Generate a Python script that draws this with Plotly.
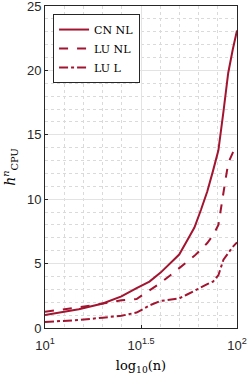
import numpy as np
import plotly.graph_objects as go

n = [10, 15, 20, 25, 30, 35, 40, 45, 50, 55, 60, 65, 70, 75, 80, 85, 90, 95, 100]
cn_nl = [1.0, 1.45, 1.9, 2.45, 3.1, 3.6, 4.3, 5.0, 5.7, 6.8, 7.8, 9.2, 10.6, 12.2, 13.8, 16.8, 19.8, 21.6, 23.1]
lu_nl = [1.27, 1.6, 1.9, 2.15, 2.25, 2.9, 3.5, 4.1, 4.65, 5.1, 5.6, 6.1, 6.6, 7.2, 8.0, 10.5, 12.8, 13.6, 14.2]
lu_l = [0.47, 0.62, 0.8, 0.95, 1.2, 1.75, 2.1, 2.2, 2.3, 2.6, 2.9, 3.15, 3.4, 3.6, 4.1, 5.3, 5.8, 6.3, 6.65]

x_tickvals = [10, 10**1.5, 100]
x_ticktext = ["10<sup>1</sup>", "10<sup>1.5</sup>", "10<sup>2</sup>"]
y_tickvals = [0, 5, 10, 15, 20, 25]

color = "#A2142F"
serif = "DejaVu Serif, Liberation Serif, serif"
sans = "Liberation Sans, Arial, sans-serif"

fig = go.Figure()
for name, ys, dash in [("CN NL", cn_nl, "solid"), ("LU NL", lu_nl, "dash"), ("LU L", lu_l, "dashdot")]:
    fig.add_trace(go.Scatter(x=n, y=ys, mode="lines", name=name,
                             line=dict(color=color, width=2, dash=dash)))

axcol = "#262626"
fig.update_layout(
    width=249, height=376,
    margin=dict(l=45, r=12, t=6, b=48),
    paper_bgcolor="white", plot_bgcolor="white",
    font=dict(family=sans, size=13, color=axcol),
    legend=dict(x=0.042, y=0.975, xanchor="left", yanchor="top",
                bgcolor="white", bordercolor=axcol, borderwidth=1,
                font=dict(family=serif, size=11, color="black"),
                tracegroupgap=0, itemwidth=30),
    showlegend=True,
)
fig.update_xaxes(
    type="log", range=[1, 2], automargin=False,
    tickmode="array", tickvals=x_tickvals, ticktext=x_ticktext,
    ticklabeloverflow="allow", ticklabelstandoff=5,
    ticks="inside", ticklen=3, tickcolor=axcol,
    showline=True, linecolor=axcol, linewidth=1, mirror=True,
    showgrid=True, gridcolor="#e3e3e3", gridwidth=1,
    minor=dict(tick0=0, dtick=0.1, showgrid=True, gridcolor="#dadada",
               griddash="dot", ticks=""),
    zeroline=False,
    title=dict(text="log<sub>10</sub>(n)", font=dict(family=serif, size=13, color="black"), standoff=9),
)
fig.update_yaxes(
    range=[0, 25], automargin=False,
    tickmode="array", tickvals=y_tickvals,
    ticklabeloverflow="allow",
    ticks="inside", ticklen=3, tickcolor=axcol,
    showline=True, linecolor=axcol, linewidth=1, mirror=True,
    showgrid=True, gridcolor="#e3e3e3", gridwidth=1,
    minor=dict(dtick=1, showgrid=True, gridcolor="#dadada", griddash="dot", ticks=""),
    zeroline=False,
    title=dict(text="<i>h</i><sup><i>n</i></sup><sub>CPU</sub>", font=dict(family=serif, size=14, color="black"), standoff=9),
)

fig.write_html("out.html", config={"displayModeBar": False},
               post_script="document.body.style.margin='0';document.body.style.overflow='hidden';")
